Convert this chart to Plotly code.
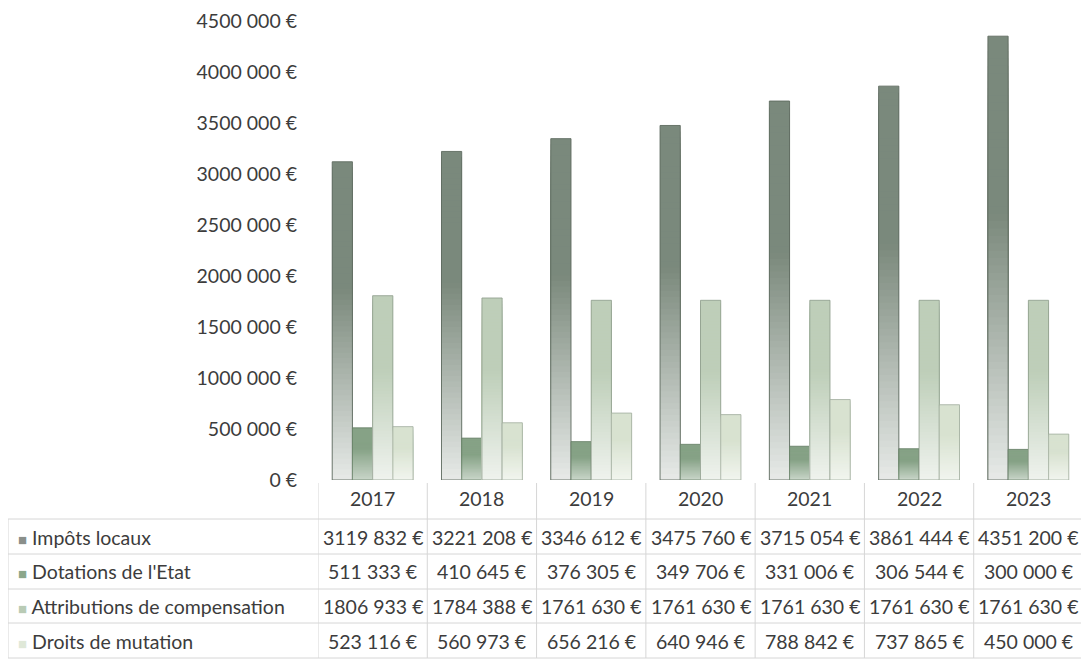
import plotly.graph_objects as go

years = ["2017", "2018", "2019", "2020", "2021", "2022", "2023"]
impots_locaux = [3119832, 3221208, 3346612, 3475760, 3715054, 3861444, 4351200]
dotations_etat = [511333, 410645, 376305, 349706, 331006, 306544, 300000]
attributions_comp = [1806933, 1784388, 1761630, 1761630, 1761630, 1761630, 1761630]
droits_mutation = [523116, 560973, 656216, 640946, 788842, 737865, 450000]

series_names = ["Impôts locaux", "Dotations de l'Etat", "Attributions de compensation", "Droits de mutation"]
series_values = [impots_locaux, dotations_etat, attributions_comp, droits_mutation]
series_colors = [(122, 137, 124), (134, 162, 134), (190, 206, 185), (216, 226, 208)]
legend_colors = ["#8a8f8a", "#8ba78b", "#b9cbb5", "#dfe8d8"]
edge_colors = ["rgba(95,108,97,0.9)", "rgba(100,125,100,0.8)", "rgba(140,155,138,0.8)", "rgba(160,172,158,0.8)"]
fade_start = [0.18, 0.45, 0.25, 0.35]   # colour strength kept at the base of each bar

y_ticks = [0, 500000, 1000000, 1500000, 2000000, 2500000, 3000000, 3500000, 4000000, 4500000]


def fmt(v):
    if v >= 1000000:
        m = v // 1000000
        rest = v % 1000000
        return f"{m}{rest // 1000:03d} {rest % 1000:03d} €"
    if v >= 1000:
        return f"{v // 1000} {v % 1000:03d} €"
    return f"{v} €"


FONT = "Lato, 'Open Sans', sans-serif"
TXT = "#3c3c3c"
FS = 19.5

fig = go.Figure()
N = 60
for s, (name, vals, col) in enumerate(zip(series_names, series_values, series_colors)):
    # draw from the full bar down to the shortest so each lighter, lower part
    # covers the one beneath it (no seams)
    for k in range(N - 1, -1, -1):
        t = (k + 0.5) / N
        f = min(1.0, fade_start[s] + (1 - fade_start[s]) * (t / 0.6))
        c = tuple(int(round(255 - (255 - ch) * f)) for ch in col)
        fig.add_trace(go.Bar(
            x=years, y=[v * (k + 1) / N for v in vals],
            offsetgroup=str(s), marker=dict(color=f"rgb{c}", line=dict(width=0)),
            showlegend=False, hoverinfo="skip",
        ))
    fig.add_trace(go.Bar(
        x=years, y=vals, name=name, offsetgroup=str(s),
        marker=dict(color="rgba(0,0,0,0)", line=dict(color=edge_colors[s], width=1)),
        showlegend=False,
    ))

# the page body adds an 8 px offset, so the figure is 8 px smaller on each side
W, H = 1081, 654
ml, mr, mt, mb = 310, 6, 13, 182
ph = H - mt - mb
OFF = 8


def py(pix):
    return (H - mb - (pix - OFF)) / ph


def px(pix):
    return (pix - OFF - ml) / (W - ml - mr)


annotations = []
shapes = []
line_col = "#d6d6d6"

for i, yr in enumerate(years):
    annotations.append(dict(x=i, xref="x", y=py(498), yref="paper", text=yr, showarrow=False,
                            font=dict(family=FONT, size=FS, color=TXT), xanchor="center", yanchor="middle"))

row_centers = [537, 571, 606, 641]
for r, (name, vals) in enumerate(zip(series_names, series_values)):
    annotations.append(dict(x=px(16), xref="paper", y=py(row_centers[r]), yref="paper",
                            text=f"<span style='color:{legend_colors[r]};font-size:15px'>■</span> {name}",
                            showarrow=False, font=dict(family=FONT, size=FS, color=TXT),
                            xanchor="left", yanchor="middle"))
    for i, v in enumerate(vals):
        annotations.append(dict(x=i, xref="x", y=py(row_centers[r]), yref="paper", text=fmt(v),
                                showarrow=False, font=dict(family=FONT, size=FS, color=TXT),
                                xanchor="center", yanchor="middle"))

for yl in [519, 554, 589, 623, 658]:
    shapes.append(dict(type="line", xref="paper", yref="paper", x0=px(8), x1=px(1084),
                       y0=py(yl), y1=py(yl), line=dict(color=line_col, width=1)))
for i in range(len(years) + 1):
    shapes.append(dict(type="line", xref="x", yref="paper", x0=i - 0.5, x1=i - 0.5,
                       y0=py(483), y1=py(658), line=dict(color=line_col, width=1)))
shapes.append(dict(type="line", xref="paper", yref="paper", x0=px(8), x1=px(8),
                   y0=py(519), y1=py(658), line=dict(color=line_col, width=1)))

fig.update_layout(
    width=W, height=H,
    margin=dict(l=ml, r=mr, t=mt, b=mb, autoexpand=False),
    paper_bgcolor="white", plot_bgcolor="white",
    barmode="group", bargap=0.26, bargroupgap=0.0,
    xaxis=dict(type="category", range=[-0.5, 6.5], showticklabels=False, showgrid=False,
               zeroline=False, showline=False, ticks="", automargin=False),
    yaxis=dict(range=[0, 4500000], tickvals=y_ticks, ticktext=[fmt(v) for v in y_ticks],
               showgrid=False, zeroline=False, showline=False, ticks="", automargin=False,
               ticklabeloverflow="allow",
               tickfont=dict(family=FONT, size=FS, color=TXT), ticklabelstandoff=20),
    annotations=annotations, shapes=shapes,
    font=dict(family=FONT),
    hovermode=False,
)

fig.write_html("out.html")
